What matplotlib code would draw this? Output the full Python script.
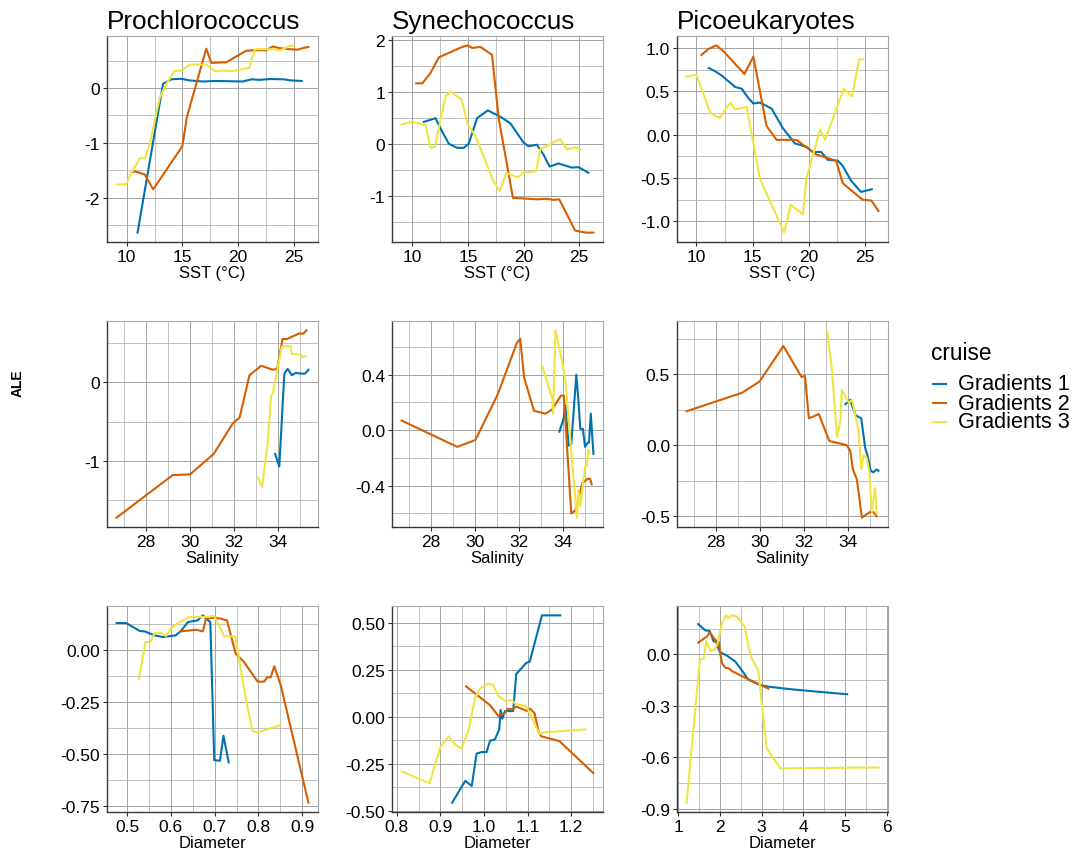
import matplotlib
matplotlib.use("Agg")
import matplotlib.pyplot as plt
from matplotlib.lines import Line2D
from matplotlib.ticker import FixedLocator

plt.rcParams["font.family"] = ["Liberation Sans", "DejaVu Sans"]

groups = ["Prochlorococcus", "Synechococcus", "Picoeukaryotes"]
cruises = ["Gradients 1", "Gradients 2", "Gradients 3"]
cruise_colors = ["#0072B2", "#D55E00", "#F0E442"]
row_labels = ["SST (°C)", "Salinity", "Diameter"]

# ---- ALE curves: SST ----
pro_sst_g1_x = [10.98, 13.27, 14.0, 14.9, 15.65, 16.85, 18.0, 20.4, 21.2, 21.9, 22.9, 24.1, 24.7, 25.7]
pro_sst_g1_y = [-2.64, 0.08, 0.16, 0.17, 0.14, 0.12, 0.13, 0.12, 0.16, 0.15, 0.165, 0.16, 0.14, 0.13]
pro_sst_g2_x = [10.45, 10.74, 11.64, 12.38, 15.0, 15.4, 17.14, 17.6, 18.93, 20.7, 21.3, 22.5, 23.1, 23.7, 24.6, 25.3, 25.8, 26.3]
pro_sst_g2_y = [-1.54, -1.52, -1.58, -1.85, -1.06, -0.53, 0.72, 0.46, 0.47, 0.68, 0.69, 0.69, 0.76, 0.73, 0.71, 0.70, 0.73, 0.75]
pro_sst_g3_x = [9.1, 9.94, 10.45, 11.19, 11.64, 12.08, 12.53, 12.98, 13.57, 14.3, 14.9, 15.7, 17.14, 17.9, 18.6, 19.5, 21.0, 21.5, 23.1, 23.8, 24.6, 25.0]
pro_sst_g3_y = [-1.76, -1.76, -1.54, -1.28, -1.28, -1.02, -0.59, -0.17, 0.08, 0.31, 0.32, 0.43, 0.43, 0.31, 0.32, 0.31, 0.37, 0.71, 0.71, 0.69, 0.77, 0.78]

syn_sst_g1_x = [11.04, 12.09, 12.54, 13.28, 14.03, 14.63, 15.07, 15.82, 16.78, 17.91, 18.81, 20.0, 20.45, 21.19, 21.79, 22.33, 23.13, 24.33, 24.93, 25.82]
syn_sst_g1_y = [0.43, 0.50, 0.30, 0.01, -0.07, -0.07, 0.01, 0.50, 0.65, 0.53, 0.40, 0.03, -0.04, -0.01, -0.20, -0.43, -0.37, -0.45, -0.44, -0.55]
syn_sst_g2_x = [10.36, 10.9, 11.64, 12.39, 13.13, 14.48, 14.99, 15.37, 16.12, 17.16, 17.76, 19.04, 21.19, 22.1, 22.7, 23.2, 24.63, 25.07, 25.6, 26.27]
syn_sst_g2_y = [1.17, 1.17, 1.37, 1.67, 1.74, 1.87, 1.90, 1.85, 1.87, 1.72, 0.50, -1.03, -1.06, -1.05, -1.07, -1.06, -1.66, -1.68, -1.70, -1.70]
syn_sst_g3_x = [9.04, 9.94, 11.19, 11.64, 12.03, 12.99, 13.43, 14.42, 14.99, 15.67, 17.31, 17.85, 18.45, 19.49, 19.94, 21.13, 21.49, 23.28, 23.88, 24.63, 25.07]
syn_sst_g3_y = [0.38, 0.43, 0.37, -0.07, -0.05, 0.92, 1.01, 0.86, 0.38, 0.16, -0.72, -0.90, -0.55, -0.64, -0.55, -0.52, -0.10, 0.10, -0.10, -0.06, -0.09]

pico_sst_g1_x = [11.09, 11.68, 12.27, 13.45, 14.04, 14.63, 15.07, 15.66, 16.7, 17.73, 18.76, 19.79, 20.38, 21.12, 21.7, 22.6, 23.04, 23.78, 24.66, 25.63]
pico_sst_g1_y = [0.77, 0.73, 0.68, 0.55, 0.53, 0.42, 0.36, 0.37, 0.30, 0.07, -0.10, -0.14, -0.20, -0.20, -0.29, -0.30, -0.36, -0.53, -0.66, -0.63]
pico_sst_g2_x = [10.44, 11.09, 11.77, 12.42, 14.28, 15.07, 16.25, 17.14, 18.91, 20.68, 22.45, 23.04, 24.81, 25.6, 26.22]
pico_sst_g2_y = [0.92, 0.99, 1.03, 0.96, 0.70, 0.90, 0.10, -0.06, -0.06, -0.23, -0.30, -0.56, -0.75, -0.76, -0.88]
pico_sst_g3_x = [9.12, 10.0, 11.24, 12.06, 13.01, 13.45, 14.48, 15.66, 17.82, 18.41, 19.5, 19.79, 21.03, 21.47, 23.13, 23.86, 24.51, 24.87]
pico_sst_g3_y = [0.67, 0.69, 0.25, 0.19, 0.37, 0.29, 0.32, -0.51, -1.13, -0.81, -0.92, -0.51, 0.06, -0.06, 0.53, 0.44, 0.87, 0.87]

# ---- ALE curves: salinity ----
pro_sal_g1_x = [33.85, 34.04, 34.27, 34.42, 34.61, 34.79, 35.02, 35.21, 35.36]
pro_sal_g1_y = [-0.91, -1.07, 0.11, 0.17, 0.09, 0.12, 0.11, 0.11, 0.16]
pro_sal_g2_x = [26.67, 29.21, 30.0, 31.07, 31.94, 32.24, 32.69, 33.22, 33.74, 33.94, 34.19, 34.39, 34.94, 35.14, 35.27]
pro_sal_g2_y = [-1.72, -1.18, -1.17, -0.91, -0.52, -0.45, 0.09, 0.21, 0.16, 0.17, 0.55, 0.55, 0.62, 0.62, 0.66]
pro_sal_g3_x = [33.07, 33.26, 33.52, 33.67, 33.74, 34.15, 34.27, 34.54, 34.61, 34.72, 35.02, 35.09, 35.21]
pro_sal_g3_y = [-1.21, -1.33, -0.76, -0.17, -0.15, 0.45, 0.46, 0.46, 0.36, 0.36, 0.35, 0.32, 0.33]

syn_sal_g1_x = [33.85, 34.05, 34.12, 34.27, 34.39, 34.62, 34.72, 34.8, 34.92, 35.02, 35.14, 35.2, 35.28, 35.4]
syn_sal_g1_y = [-0.01, 0.09, 0.18, -0.11, -0.10, 0.40, 0.21, 0.01, 0.01, -0.12, -0.09, -0.09, 0.12, -0.17]
syn_sal_g2_x = [26.65, 29.19, 30.02, 31.04, 31.91, 32.06, 32.24, 32.69, 33.22, 33.52, 33.92, 34.05, 34.39, 34.57, 34.9, 35.14, 35.25, 35.32]
syn_sal_g2_y = [0.07, -0.12, -0.07, 0.26, 0.63, 0.66, 0.38, 0.14, 0.12, 0.15, 0.25, 0.25, -0.60, -0.58, -0.38, -0.35, -0.35, -0.39]
syn_sal_g3_x = [33.07, 33.52, 33.56, 33.67, 33.97, 34.12, 34.35, 34.65, 34.72, 34.8, 35.02, 35.1, 35.17, 35.22]
syn_sal_g3_y = [0.46, 0.23, 0.12, 0.72, 0.50, 0.36, -0.07, -0.63, -0.43, -0.55, -0.26, -0.26, -0.14, -0.17]

pico_sal_g1_x = [33.9, 34.12, 34.2, 34.38, 34.62, 34.8, 34.92, 35.05, 35.17, 35.25, 35.32, 35.4]
pico_sal_g1_y = [0.29, 0.32, 0.28, 0.21, 0.19, -0.02, -0.08, -0.18, -0.19, -0.18, -0.17, -0.18]
pico_sal_g2_x = [26.68, 29.2, 30.0, 31.08, 31.91, 32.06, 32.24, 32.69, 33.17, 33.71, 33.97, 34.12, 34.24, 34.42, 34.65, 35.02, 35.17, 35.32]
pico_sal_g2_y = [0.24, 0.37, 0.45, 0.70, 0.48, 0.49, 0.19, 0.22, 0.03, 0.01, 0.00, -0.04, -0.17, -0.24, -0.51, -0.47, -0.47, -0.50]
pico_sal_g3_x = [33.07, 33.29, 33.52, 33.67, 33.74, 34.05, 34.2, 34.5, 34.62, 34.72, 34.87, 34.98, 35.1, 35.25, 35.32]
pico_sal_g3_y = [0.81, 0.53, 0.06, 0.17, 0.39, 0.30, 0.32, 0.10, -0.17, -0.07, -0.09, -0.18, -0.47, -0.30, -0.48]

# ---- ALE curves: cell diameter ----
pro_dia_g1_x = [0.476, 0.498, 0.529, 0.54, 0.563, 0.582, 0.611, 0.623, 0.639, 0.661, 0.673, 0.68, 0.69, 0.699, 0.712, 0.72, 0.732]
pro_dia_g1_y = [0.128, 0.128, 0.09, 0.088, 0.069, 0.061, 0.069, 0.09, 0.133, 0.141, 0.165, 0.149, 0.133, -0.53, -0.533, -0.413, -0.541]
pro_dia_g2_x = [0.622, 0.658, 0.673, 0.68, 0.699, 0.714, 0.728, 0.748, 0.767, 0.798, 0.813, 0.82, 0.828, 0.836, 0.851, 0.914]
pro_dia_g2_y = [0.088, 0.096, 0.088, 0.149, 0.154, 0.149, 0.141, -0.019, -0.059, -0.153, -0.153, -0.132, -0.132, -0.079, -0.172, -0.734]
pro_dia_g3_x = [0.527, 0.542, 0.553, 0.563, 0.578, 0.589, 0.601, 0.616, 0.642, 0.68, 0.699, 0.722, 0.747, 0.771, 0.786, 0.798, 0.851]
pro_dia_g3_y = [-0.14, 0.037, 0.037, 0.08, 0.08, 0.066, 0.104, 0.128, 0.157, 0.157, 0.162, 0.064, 0.064, -0.236, -0.389, -0.397, -0.361]

syn_dia_g1_x = [0.927, 0.957, 0.972, 0.983, 0.995, 1.006, 1.014, 1.025, 1.035, 1.038, 1.042, 1.048, 1.067, 1.074, 1.097, 1.105, 1.133, 1.175]
syn_dia_g1_y = [-0.457, -0.341, -0.368, -0.196, -0.188, -0.188, -0.127, -0.121, -0.068, 0.036, -0.011, 0.030, 0.030, 0.227, 0.286, 0.293, 0.539, 0.539]
syn_dia_g2_x = [0.959, 1.014, 1.033, 1.048, 1.055, 1.065, 1.074, 1.085, 1.1, 1.106, 1.116, 1.126, 1.131, 1.173, 1.251]
syn_dia_g2_y = [0.161, 0.061, 0.004, 0.021, 0.043, 0.039, 0.054, 0.043, 0.030, 0.043, 0.018, -0.086, -0.104, -0.13, -0.30]
syn_dia_g3_x = [0.811, 0.875, 0.9, 0.919, 0.934, 0.948, 0.964, 0.98, 0.991, 1.01, 1.021, 1.033, 1.048, 1.063, 1.074, 1.097, 1.127, 1.141, 1.233]
syn_dia_g3_y = [-0.291, -0.354, -0.161, -0.104, -0.148, -0.170, -0.077, 0.102, 0.150, 0.177, 0.168, 0.111, 0.084, 0.088, 0.066, 0.057, -0.091, -0.082, -0.068]

pico_dia_g1_x = [1.48, 1.65, 1.75, 1.85, 1.89, 1.99, 2.05, 2.17, 2.37, 2.52, 2.68, 2.96, 3.2, 3.75, 4.39, 5.05]
pico_dia_g1_y = [0.176, 0.139, 0.137, 0.074, 0.084, 0.016, 0.006, -0.008, -0.043, -0.092, -0.147, -0.180, -0.190, -0.205, -0.219, -0.233]
pico_dia_g2_x = [1.48, 1.69, 1.75, 1.81, 1.89, 1.97, 2.01, 2.05, 2.13, 2.21, 2.29, 2.64, 3.16]
pico_dia_g2_y = [0.068, 0.104, 0.127, 0.110, 0.080, 0.074, 0.0, -0.053, -0.078, -0.082, -0.098, -0.141, -0.200]
pico_dia_g3_x = [1.2, 1.52, 1.61, 1.67, 1.77, 1.87, 1.94, 2.05, 2.14, 2.21, 2.26, 2.4, 2.59, 2.74, 2.92, 3.12, 3.45, 5.8]
pico_dia_g3_y = [-0.865, -0.029, -0.027, 0.078, 0.022, 0.025, 0.061, 0.182, 0.227, 0.211, 0.227, 0.221, 0.162, -0.014, -0.096, -0.548, -0.665, -0.66]

# tick breaks per panel (x, y), labels as printed
sst_x_breaks = [10, 15, 20, 25]
sal_x_breaks = [28, 30, 32, 34]
pro_dia_x_breaks = [0.5, 0.6, 0.7, 0.8, 0.9]
syn_dia_x_breaks = [0.8, 0.9, 1.0, 1.1, 1.2]
pico_dia_x_breaks = [1, 2, 3, 4, 5, 6]

panels = [
    # row 0: SST
    [
        ([(pro_sst_g1_x, pro_sst_g1_y), (pro_sst_g2_x, pro_sst_g2_y), (pro_sst_g3_x, pro_sst_g3_y)],
         sst_x_breaks, [-2, -1, 0], "{:.0f}", "{:.0f}"),
        ([(syn_sst_g1_x, syn_sst_g1_y), (syn_sst_g2_x, syn_sst_g2_y), (syn_sst_g3_x, syn_sst_g3_y)],
         sst_x_breaks, [-1, 0, 1, 2], "{:.0f}", "{:.0f}"),
        ([(pico_sst_g1_x, pico_sst_g1_y), (pico_sst_g2_x, pico_sst_g2_y), (pico_sst_g3_x, pico_sst_g3_y)],
         sst_x_breaks, [-1.0, -0.5, 0.0, 0.5, 1.0], "{:.0f}", "{:.1f}"),
    ],
    # row 1: salinity
    [
        ([(pro_sal_g1_x, pro_sal_g1_y), (pro_sal_g2_x, pro_sal_g2_y), (pro_sal_g3_x, pro_sal_g3_y)],
         sal_x_breaks, [-1, 0], "{:.0f}", "{:.0f}"),
        ([(syn_sal_g1_x, syn_sal_g1_y), (syn_sal_g2_x, syn_sal_g2_y), (syn_sal_g3_x, syn_sal_g3_y)],
         sal_x_breaks, [-0.4, 0.0, 0.4], "{:.0f}", "{:.1f}"),
        ([(pico_sal_g1_x, pico_sal_g1_y), (pico_sal_g2_x, pico_sal_g2_y), (pico_sal_g3_x, pico_sal_g3_y)],
         sal_x_breaks, [-0.5, 0.0, 0.5], "{:.0f}", "{:.1f}"),
    ],
    # row 2: diameter
    [
        ([(pro_dia_g1_x, pro_dia_g1_y), (pro_dia_g2_x, pro_dia_g2_y), (pro_dia_g3_x, pro_dia_g3_y)],
         pro_dia_x_breaks, [-0.75, -0.5, -0.25, 0.0], "{:.1f}", "{:.2f}"),
        ([(syn_dia_g1_x, syn_dia_g1_y), (syn_dia_g2_x, syn_dia_g2_y), (syn_dia_g3_x, syn_dia_g3_y)],
         syn_dia_x_breaks, [-0.5, -0.25, 0.0, 0.25, 0.5], "{:.1f}", "{:.2f}"),
        ([(pico_dia_g1_x, pico_dia_g1_y), (pico_dia_g2_x, pico_dia_g2_y), (pico_dia_g3_x, pico_dia_g3_y)],
         pico_dia_x_breaks, [-0.9, -0.6, -0.3, 0.0], "{:.0f}", "{:.1f}"),
    ],
]

W, H = 1078, 854
fig = plt.figure(figsize=(W / 100, H / 100), dpi=100)

col_left = [107, 392, 677]
row_top = [37, 322, 607]
pw, ph = 211, 206


def minor_between(breaks):
    step = breaks[1] - breaks[0]
    return [b + step / 2 for b in [breaks[0] - step] + breaks]


def fmt(v, pattern):
    s = pattern.format(v)
    if s.startswith("-") and float(s) == 0:
        s = s[1:]
    return s


for r in range(3):
    for c in range(3):
        series, xb, yb, xfmt, yfmt = panels[r][c]
        ax = fig.add_axes([col_left[c] / W, 1 - (row_top[r] + ph) / H, pw / W, ph / H])
        for (xs, ys), col in zip(series, cruise_colors):
            ax.plot(xs, ys, color=col, lw=1.5, solid_joinstyle="round", zorder=3)
        ax.margins(0.05)
        xlim = ax.get_xlim()
        ylim = ax.get_ylim()

        ax.xaxis.set_major_locator(FixedLocator(xb))
        ax.yaxis.set_major_locator(FixedLocator(yb))
        ax.xaxis.set_minor_locator(FixedLocator(minor_between(xb)))
        ax.yaxis.set_minor_locator(FixedLocator(minor_between(yb)))
        ax.set_xticklabels([fmt(v, xfmt) for v in xb])
        ax.set_yticklabels([fmt(v, yfmt) for v in yb])
        ax.set_xlim(xlim)
        ax.set_ylim(ylim)

        ax.grid(which="major", color="#a3a3a3", lw=0.7)
        ax.grid(which="minor", color="#b5b5b5", lw=0.6)
        ax.set_axisbelow(True)
        ax.tick_params(which="major", length=3, width=0.8, color="#333333",
                       labelsize=12.5, labelcolor="black", pad=2)
        ax.tick_params(which="minor", length=0)
        for side in ("top", "right"):
            ax.spines[side].set_color("#a8a8a8")
            ax.spines[side].set_linewidth(0.8)
        for side in ("left", "bottom"):
            ax.spines[side].set_color("#3a3a3a")
            ax.spines[side].set_linewidth(1.0)

        ax.set_xlabel(row_labels[r], fontsize=12, labelpad=1)
        if r == 0:
            ax.set_title(groups[c], loc="left", fontsize=18.8, pad=6)

fig.text(18 / W, 1 - 383 / H, "ALE", rotation=90, fontsize=10, fontweight="bold",
         ha="center", va="center")

# legend for cruise colours, laid out by hand
fig.text(931 / W, 1 - 354 / H, "cruise", fontsize=16.3, ha="left", va="center")
for i, (name, col) in enumerate(zip(cruises, cruise_colors)):
    yy = 1 - (385 + 19 * i) / H
    fig.add_artist(Line2D([933 / W, 946 / W], [yy, yy], color=col, lw=1.5,
                          transform=fig.transFigure))
    fig.text(958 / W, yy, name, fontsize=15.6, ha="left", va="center")

fig.savefig("out.png", dpi=100)
